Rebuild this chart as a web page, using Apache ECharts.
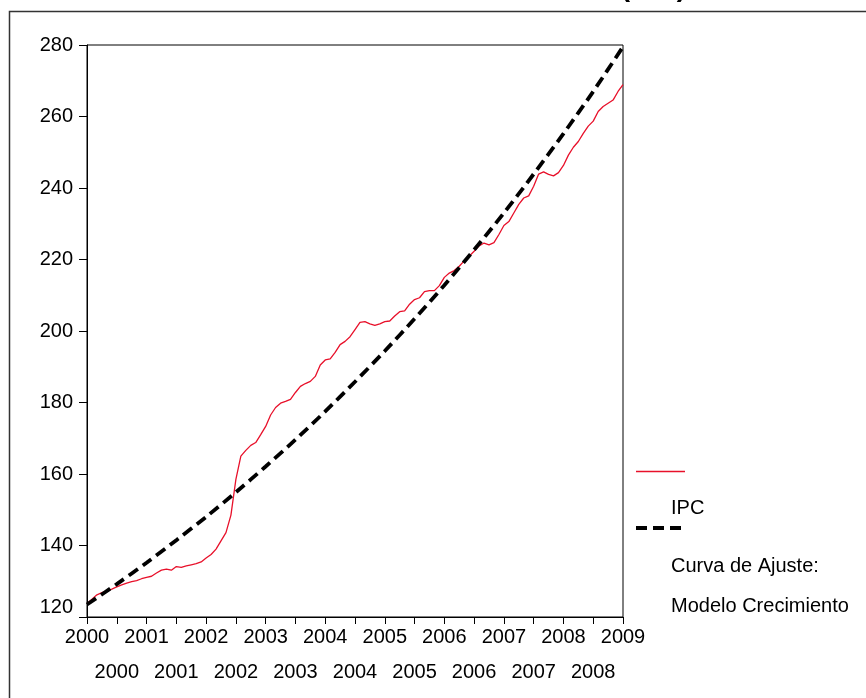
<!DOCTYPE html>
<html>
<head>
<meta charset="utf-8">
<script src="https://cdn.jsdelivr.net/npm/echarts@6/dist/echarts.min.js"></script>
<style>
html,body{margin:0;padding:0;background:#fff;}
#chart{width:866px;height:698px;}
</style>
</head>
<body>
<div id="chart"></div>
<script>
// Monthly observations 2000M01 .. 2009M01
const startYear = 2000;
const ipc = [
123.8,125.0,126.2,126.8,127.3,127.8,128.4,129.0,129.5,129.9,130.2,130.7,
131.1,131.4,132.3,133.1,133.4,133.1,134.1,133.9,134.3,134.6,134.9,135.4,
136.5,137.5,139.0,141.3,143.6,148.5,158.5,165.0,166.6,168.0,168.8,171.0,
173.3,176.5,178.6,179.8,180.3,180.9,182.8,184.5,185.3,185.9,187.3,190.5,
191.9,192.2,194.0,196.2,197.1,198.4,200.4,202.4,202.6,202.0,201.6,202.0,
202.6,202.8,204.2,205.4,205.6,207.5,208.8,209.3,211.0,211.3,211.3,212.7,
215.0,216.2,216.9,218.1,219.6,220.9,222.3,223.8,224.6,224.1,224.7,227.0,
229.5,230.6,233.0,235.4,237.2,237.8,240.5,243.9,244.5,243.8,243.4,244.3,
246.3,249.2,251.4,253.0,255.3,257.3,258.7,261.4,262.8,263.7,264.6,267.0,
268.9
];
// Fitted growth curve, read every 6 months (month index from 2000M01)
const fitMonths = [0,6,12,18,24,30,36,42,48,54,60,66,72,78,84,90,96,102,108];
const fitValues = [123.5,129.2,135.2,141.5,148.0,154.9,162.1,169.6,177.5,185.8,194.4,203.4,212.8,222.7,233.0,243.9,255.2,267.0,279.5];
const yTicks = [120,140,160,180,200,220,240,260,280];
const legendNames = ['IPC', 'Curva de Ajuste:', 'Modelo Crecimiento'];

const ipcData = ipc.map((v, i) => [startYear + i / 12, v]);
const fitData = fitValues.map((v, k) => [startYear + fitMonths[k] / 12, v]);

const font = '"Liberation Sans", Arial, sans-serif';
const chart = echarts.init(document.getElementById('chart'));
chart.setOption({
  animation: false,
  backgroundColor: '#fff',
  grid: {left: 87, right: 243, top: 45, bottom: 81, show: true, borderColor: '#000', borderWidth: 1},
  xAxis: [
    {
      type: 'value', min: 2000, max: 2009, interval: 0.5, position: 'bottom',
      axisLine: {show: true, onZero: false, lineStyle: {color: '#000', width: 1}},
      axisTick: {show: true, length: 7, lineStyle: {color: '#000'}},
      splitLine: {show: false},
      axisLabel: {color: '#000', fontSize: 20, fontFamily: font, margin: 10,
        formatter: v => (Math.abs(v % 1) < 1e-9 ? String(Math.round(v)) : '')}
    },
    {
      type: 'value', min: 2000, max: 2009, interval: 0.5, position: 'bottom',
      axisLine: {show: false}, axisTick: {show: false}, splitLine: {show: false},
      axisLabel: {color: '#000', fontSize: 20, fontFamily: font, margin: 45,
        formatter: v => (Math.abs(v % 1 - 0.5) < 1e-9 ? String(Math.floor(v)) : '')}
    }
  ],
  yAxis: {
    type: 'value', min: 120, max: 280, interval: 20,
    axisLine: {show: true, lineStyle: {color: '#000', width: 1}},
    axisTick: {show: true, length: 8, lineStyle: {color: '#000'}},
    splitLine: {show: false},
    axisLabel: {color: '#000', fontSize: 20, fontFamily: font, margin: 14,
      formatter: v => (v === yTicks[0] ? '{lo|' + v + '}' : String(v)),
      rich: {lo: {fontSize: 20, fontFamily: font, color: '#000', padding: [0, 0, 20, 0]}}}
  },
  series: [
    {
      name: legendNames[0], type: 'line', data: ipcData, showSymbol: false,
      lineStyle: {color: '#e8102a', width: 1.3}, z: 3
    },
    {
      name: legendNames[1], type: 'line', data: fitData, showSymbol: false, smooth: 0.3,
      lineStyle: {color: '#000', width: 3.8, type: [11, 6]}, z: 4
    }
  ],
  graphic: [
    {type: 'rect', shape: {x: 9.5, y: 11.5, width: 900, height: 720}, style: {fill: 'none', stroke: '#333', lineWidth: 1.5}, silent: true, z: 0},
    {type: 'text', x: 686, y: 2, style: {text: 'ÍNDICE DE PRECIOS AL CONSUMIDOR (IPC)', fill: '#000', font: 'bold 28px "Liberation Sans", Arial', align: 'right', verticalAlign: 'bottom'}},
    {type: 'line', shape: {x1: 636, y1: 471.5, x2: 685, y2: 471.5}, style: {stroke: '#e8102a', lineWidth: 1.3}},
    {type: 'text', x: 671, y: 508, style: {text: legendNames[0], fill: '#000', font: '20px "Liberation Sans", Arial', verticalAlign: 'middle'}},
    {type: 'line', shape: {x1: 636, y1: 528, x2: 685, y2: 528}, style: {stroke: '#000', lineWidth: 3.8, lineDash: [11, 6]}},
    {type: 'text', x: 671, y: 566, style: {text: legendNames[1], fill: '#000', font: '20px "Liberation Sans", Arial', verticalAlign: 'middle'}},
    {type: 'text', x: 671, y: 606, style: {text: legendNames[2], fill: '#000', font: '20px "Liberation Sans", Arial', verticalAlign: 'middle'}}
  ]
});
</script>
</body>
</html>
